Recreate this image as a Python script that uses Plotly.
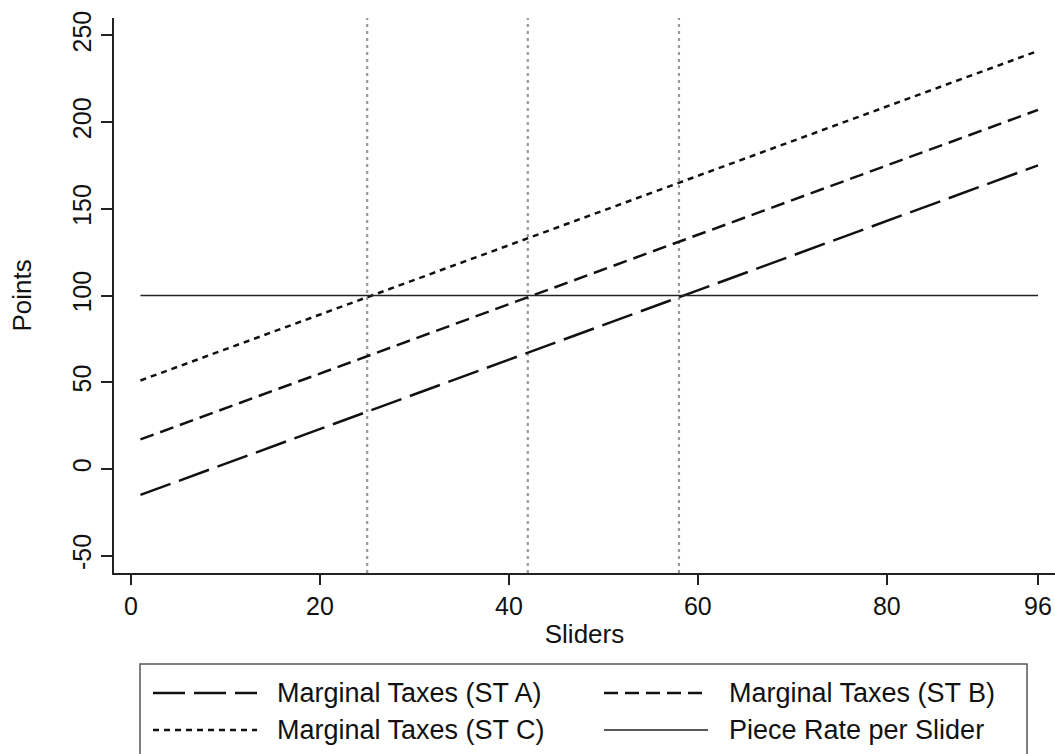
import plotly.graph_objects as go

# ---- data ----
sliders = [1, 96]
st_a = [-15, 175]
st_b = [17, 207]
st_c = [51, 241]
piece_rate = [100, 100]
break_even = [25, 42, 58]

x_ticks = [0, 20, 40, 60, 80, 96]
y_ticks = [-50, 0, 50, 100, 150, 200, 250]

series_names = ["Marginal Taxes (ST A)", "Marginal Taxes (ST B)",
                "Marginal Taxes (ST C)", "Piece Rate per Slider"]

W, H = 1055, 754
L, R, T, B = 114, 0, 18, 181
FONT = "Liberation Sans, Arial, Helvetica, sans-serif"

def px_x(p):
    return (p - L) / (W - L - R)

def px_y(p):
    return (H - B - p) / (H - B - T)

styles = {
    "A": dict(color="#111111", width=2.5, dash="32px,9px"),
    "B": dict(color="#111111", width=2.5, dash="14px,7px"),
    "C": dict(color="#111111", width=2.5, dash="6px,5px"),
    "P": dict(color="#222222", width=1.5, dash="solid"),
}

fig = go.Figure()
for key, name, ys in [("A", series_names[0], st_a), ("B", series_names[1], st_b),
                      ("C", series_names[2], st_c), ("P", series_names[3], piece_rate)]:
    fig.add_trace(go.Scatter(x=sliders, y=ys, mode="lines", name=name,
                             line=styles[key], showlegend=False))

shapes = []
for xv in break_even:
    shapes.append(dict(type="line", xref="x", yref="paper", x0=xv, x1=xv, y0=0, y1=1,
                       line=dict(color="#999999", width=2.2, dash="3px,4px"), layer="below"))

# legend box (drawn manually to match wide line samples)
shapes.append(dict(type="rect", xref="paper", yref="paper",
                   x0=px_x(140), x1=px_x(1027), y0=px_y(770), y1=px_y(664),
                   line=dict(color="#555555", width=1.5), fillcolor="rgba(0,0,0,0)"))
annotations = []
legend_items = [
    ("A", series_names[0], 153, 275, 693),
    ("B", series_names[1], 604, 727, 693),
    ("C", series_names[2], 153, 275, 730),
    ("P", series_names[3], 604, 727, 730),
]
for key, name, sx, tx, ty in legend_items:
    shapes.append(dict(type="line", xref="paper", yref="paper",
                       x0=px_x(sx), x1=px_x(sx + 104), y0=px_y(ty), y1=px_y(ty),
                       line=styles[key]))
    annotations.append(dict(xref="paper", yref="paper", x=px_x(tx), y=px_y(ty),
                            text=name, showarrow=False, xanchor="left", yanchor="middle",
                            font=dict(family=FONT, size=27, color="#111111")))

fig.update_layout(
    width=W, height=H,
    margin=dict(l=L, r=R, t=T, b=B, pad=0),
    paper_bgcolor="white", plot_bgcolor="white",
    font=dict(family=FONT, size=25, color="#111111"),
    shapes=shapes, annotations=annotations,
    showlegend=False,
)
fig.update_xaxes(
    range=[-1.8, 97.8], tickvals=x_ticks, ticktext=[str(v) for v in x_ticks],
    showgrid=False, zeroline=False, showline=True, linecolor="#222222", linewidth=1.5,
    ticks="outside", ticklen=10, tickwidth=1.5, tickcolor="#222222",
    tickfont=dict(size=25),
    title=dict(text="Sliders", font=dict(size=26), standoff=6),
)
fig.update_yaxes(
    range=[-60, 260], tickvals=y_ticks, ticktext=[str(v) for v in y_ticks],
    showgrid=False, zeroline=False, showline=True, linecolor="#222222", linewidth=1.5,
    ticks="outside", ticklen=11, tickwidth=1.5, tickcolor="#222222",
    tickangle=-90, tickfont=dict(size=25),
    title=dict(text="Points", font=dict(size=26), standoff=29),
)

fig.write_html("out.html", config={"displayModeBar": False},
               post_script="document.body.style.margin='0';")
